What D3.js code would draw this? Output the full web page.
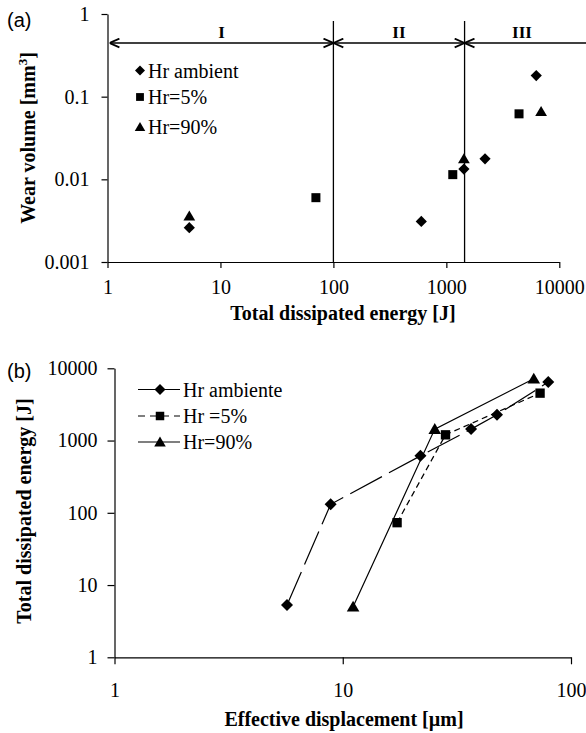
<!DOCTYPE html>
<html>
<head>
<meta charset="utf-8">
<script src="https://cdn.jsdelivr.net/npm/d3@7"></script>
<style>
  body { margin: 0; background: #fff; }
  svg { display: block; }
</style>
</head>
<body>
<div id="canvas"></div>
<script>
// panel (a): wear volume vs total dissipated energy
const aAmbientE = [5.3, 600, 1430, 2200, 6250]
const aAmbientV = [0.0026, 0.0031, 0.0133, 0.0177, 0.18]
const a5E = [70, 1140, 4400]
const a5V = [0.006, 0.0114, 0.062]
const a90E = [5.3, 1430, 6900]
const a90V = [0.0036, 0.0177, 0.066]
const regimeBounds = [100, 1450]
const regimeLabels = ['I', 'II', 'III']
const aLegend = ['Hr ambient', 'Hr=5%', 'Hr=90%']
const aXTicks = [1, 10, 100, 1000, 10000]
const aYTicks = [0.001, 0.01, 0.1, 1]

// panel (b): total dissipated energy vs effective displacement
const bAmbD = [5.7, 8.85, 21.9, 36.5, 47.4, 79.5]
const bAmbE = [5.3, 131, 614, 1440, 2270, 6440]
const b5D = [17.3, 28.2, 73.2]
const b5E = [73, 1200, 4530]
const b90D = [11.1, 25.3, 68.7]
const b90E = [5.0, 1440, 7160]
const bLegend = ['Hr ambiente', 'Hr =5%', 'Hr=90%']
const bXTicks = [1, 10, 100]
const bYTicks = [1, 10, 100, 1000, 10000]

let width = 586
let height = 733
const serif = '"Liberation Serif", "Times New Roman", serif'

const svg = d3.select('#canvas')
            .append('svg')
            .attr('width', width)
            .attr('height', height)

svg.append('defs').append('marker')
    .attr('id', 'arr')
    .attr('viewBox', '0 0 10 10')
    .attr('refX', 10).attr('refY', 5)
    .attr('markerWidth', 11).attr('markerHeight', 11)
    .attr('markerUnits', 'userSpaceOnUse')
    .attr('orient', 'auto-start-reverse')
    .append('path')
    .attr('d', 'M1,1 L10,5 L1,9')
    .attr('fill', 'none').attr('stroke', '#000').attr('stroke-width', 1.6)

// marker shapes
function shape(type, s) {
  if (type == 'diamond') return `M0,${-s} L${s},0 L0,${s} L${-s},0 Z`
  if (type == 'square') return `M${-s*0.85},${-s*0.85} h${s*1.7} v${s*1.7} h${-s*1.7} Z`
  return `M0,${-s} L${s*1.05},${s*0.8} L${-s*1.05},${s*0.8} Z`
}

function styleAxis(g) {
  g.attr('font-family', serif).attr('font-size', 20)
  g.selectAll('text').attr('fill', '#000')
  g.selectAll('line, path').attr('stroke', '#000').attr('stroke-width', 1.2)
}

// ---------- panel (a) ----------
let xA = d3.scaleLog().domain([1, 10000]).range([107.5, 559.3])
let yA = d3.scaleLog().domain([0.001, 1]).range([262, 14])

let gA = svg.append('g')

gA.append('g')
    .attr('transform', `translate(0,${yA(0.001)})`)
    .call(d3.axisBottom(xA).tickValues(aXTicks).tickFormat(d3.format('d')).tickSize(6).tickSizeOuter(0).tickPadding(12))
    .call(styleAxis)
gA.append('g')
    .attr('transform', `translate(${xA(1)},0)`)
    .call(d3.axisLeft(yA).tickValues(aYTicks).tickFormat(d => d3.format('~g')(d)).tickSize(6).tickSizeOuter(0).tickPadding(12))
    .call(styleAxis)

// regime boundaries
gA.selectAll('.bound').data(regimeBounds).enter()
    .append('line')
    .attr('x1', d => xA(d)).attr('x2', d => xA(d))
    .attr('y1', 21).attr('y2', yA(0.001))
    .attr('stroke', '#000').attr('stroke-width', 1.3)

let edges = [1].concat(regimeBounds)
let segs = edges.map((d, i) => [xA(d) + (i == 0 ? 2 : 0), i < regimeBounds.length ? xA(regimeBounds[i]) : width + 12])
gA.selectAll('.seg').data(segs).enter()
    .append('line')
    .attr('x1', d => d[0]).attr('x2', d => d[1])
    .attr('y1', 43).attr('y2', 43)
    .attr('stroke', '#000').attr('stroke-width', 1.5)
    .attr('marker-start', 'url(#arr)')
    .attr('marker-end', 'url(#arr)')

gA.selectAll('.reg').data(regimeLabels).enter()
    .append('text')
    .text(d => d)
    .attr('x', (d, i) => i < 2 ? (segs[i][0] + segs[i][1]) / 2 : 522)
    .attr('y', 38)
    .attr('text-anchor', 'middle')
    .attr('font-family', serif).attr('font-weight', 'bold').attr('font-size', 17)

let aSeries = [
  {e: aAmbientE, v: aAmbientV, type: 'diamond'},
  {e: a5E, v: a5V, type: 'square'},
  {e: a90E, v: a90V, type: 'triangle'}
]
aSeries.forEach(s => {
  gA.selectAll(null).data(s.e.map((e, i) => [e, s.v[i]])).enter()
    .append('path')
    .attr('d', shape(s.type, s.type == 'square' ? 5.3 : 5.6))
    .attr('transform', d => `translate(${xA(d[0])},${yA(d[1])})`)
    .attr('fill', '#000')
})

let legA = gA.selectAll('.legA').data(aLegend).enter()
    .append('g')
    .attr('transform', (d, i) => `translate(140,${[70.5, 97, 127][i]})`)
legA.append('path')
    .attr('d', (d, i) => shape(aSeries[i].type, i == 1 ? 4.6 : 5))
    .attr('fill', '#000')
legA.append('text')
    .text(d => d)
    .attr('x', 8).attr('y', 7)
    .attr('font-family', serif).attr('font-size', 20)

svg.append('text').text('(a)')
    .attr('x', 7).attr('y', 27)
    .attr('font-family', '"Liberation Sans", Arial, sans-serif').attr('font-size', 20)

svg.append('text').text('Total dissipated energy [J]')
    .attr('x', 343).attr('y', 320)
    .attr('text-anchor', 'middle')
    .attr('font-family', serif).attr('font-weight', 'bold').attr('font-size', 20)

let yTitleA = svg.append('text')
    .attr('transform', 'translate(35,138) rotate(-90)')
    .attr('text-anchor', 'middle')
    .attr('font-family', serif).attr('font-weight', 'bold').attr('font-size', 20)
yTitleA.append('tspan').text('Wear volume [mm')
yTitleA.append('tspan').text('3').attr('dy', -8).attr('font-size', 13)
yTitleA.append('tspan').text(']').attr('dy', 8)

// ---------- panel (b) ----------
let xB = d3.scaleLog().domain([1, 100]).range([114.5, 571])
let yB = d3.scaleLog().domain([1, 10000]).range([657.3, 368.3])

let gB = svg.append('g')
gB.append('g')
    .attr('transform', `translate(0,${yB(1)})`)
    .call(d3.axisBottom(xB).tickValues(bXTicks).tickFormat(d3.format('d')).tickSize(7).tickSizeOuter(0).tickPadding(19))
    .call(styleAxis)
gB.append('g')
    .attr('transform', `translate(${xB(1)},0)`)
    .call(d3.axisLeft(yB).tickValues(bYTicks).tickFormat(d3.format('d')).tickSize(7).tickSizeOuter(0).tickPadding(10))
    .call(styleAxis)

let bSeries = [
  {d: bAmbD, e: bAmbE, type: 'diamond', dash: '36,8', legDash: null},
  {d: b5D, e: b5E, type: 'square', dash: '6,4', legDash: '7,5'},
  {d: b90D, e: b90E, type: 'triangle', dash: null, legDash: null}
]
let line = d3.line().x(d => xB(d[0])).y(d => yB(d[1]))
bSeries.forEach(s => {
  let pts = s.d.map((d, i) => [d, s.e[i]])
  gB.append('path')
    .attr('d', line(pts))
    .attr('fill', 'none').attr('stroke', '#000').attr('stroke-width', 1.2)
    .attr('stroke-dasharray', s.dash)
  gB.selectAll(null).data(pts).enter()
    .append('path')
    .attr('d', shape(s.type, s.type == 'square' ? 5.5 : 6))
    .attr('transform', d => `translate(${xB(d[0])},${yB(d[1])})`)
    .attr('fill', '#000')
})

let legB = gB.selectAll('.legB').data(bLegend).enter()
    .append('g')
    .attr('transform', (d, i) => `translate(160,${[389.5, 416, 442][i]})`)
legB.append('line')
    .attr('x1', -22).attr('x2', 20)
    .attr('stroke', '#000').attr('stroke-width', 1.2)
    .attr('stroke-dasharray', (d, i) => bSeries[i].legDash)
legB.append('path')
    .attr('d', (d, i) => shape(bSeries[i].type, i == 1 ? 5 : 5.5))
    .attr('fill', '#000')
legB.append('text')
    .text(d => d)
    .attr('x', 23).attr('y', 7)
    .attr('font-family', serif).attr('font-size', 20)

svg.append('text').text('(b)')
    .attr('x', 7).attr('y', 378)
    .attr('font-family', '"Liberation Sans", Arial, sans-serif').attr('font-size', 20)

svg.append('text').text('Effective displacement [\u00b5m]')
    .attr('x', 344).attr('y', 726)
    .attr('text-anchor', 'middle')
    .attr('font-family', serif).attr('font-weight', 'bold').attr('font-size', 20)

svg.append('text').text('Total dissipated energy [J]')
    .attr('transform', 'translate(31,511) rotate(-90)')
    .attr('text-anchor', 'middle')
    .attr('font-family', serif).attr('font-weight', 'bold').attr('font-size', 20)
</script>
</body>
</html>
